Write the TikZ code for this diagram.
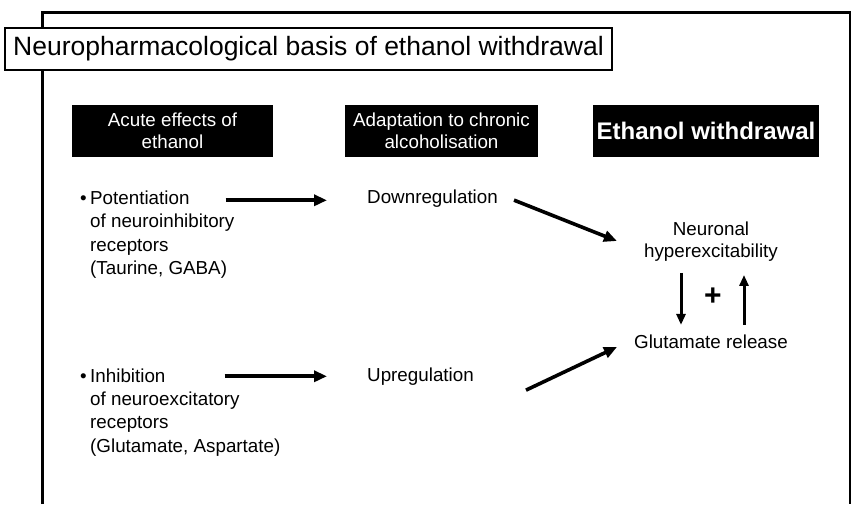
\documentclass[tikz,border=0pt]{standalone}
\usepackage{fontspec}
\setmainfont{Liberation Sans}
\usetikzlibrary{arrows.meta,calc}
\begin{document}
\begin{tikzpicture}[x=1pt,y=-1pt,
  body/.style={font=\fontsize{18.8}{22.5}\selectfont, inner sep=0pt, text=black},
  blackbox/.style={fill=black, text=white, inner sep=0pt, align=center, font=\fontsize{18.8}{22}\selectfont},
  arr/.style={line width=3.6pt, -{Triangle[length=13pt,width=11pt]}},
  varr/.style={line width=3pt, -{Triangle[length=11pt,width=9pt]}}
]
\useasboundingbox (0,0) rectangle (852,504);
\fill[white] (0,0) rectangle (852,504);
% frame (open at the bottom)
\draw[line width=3pt] (42,504) -- (42,12) -- (851,12);
\draw[line width=1.6pt] (850,12) -- (850,504);
% title
\node[draw, line width=1.2pt, fill=white, minimum width=607pt, minimum height=42pt, inner sep=0pt,
      font=\fontsize{26.5}{30}\selectfont] (title) at (308.5,49) {Neuropharmacological basis of ethanol withdrawal};
% column headers
\node[blackbox, minimum width=201pt, minimum height=52pt] (h1) at (172.5,131) {Acute effects of\\ethanol};
\node[blackbox, minimum width=193pt, minimum height=52pt] (h2) at (441.5,131) {Adaptation to chronic\\alcoholisation};
\node[blackbox, minimum width=226pt, minimum height=52pt, font=\fontsize{24}{28}\bfseries] (h3) at (706,131) {Ethanol withdrawal};
% left column, upper block
\node[body, anchor=base east] (b1) at (87,204) {•};
\node[body, anchor=base west] (potA) at (90,204) {Potentiation};
\node[body, anchor=base west] (potB) at (90,227) {of neuroinhibitory};
\node[body, anchor=base west] (potC) at (90,251) {receptors};
\node[body, anchor=base west] (potD) at (90,274) {(Taurine, GABA)};
% left column, lower block
\node[body, anchor=base east] (b2) at (87,382) {•};
\node[body, anchor=base west] (inhA) at (90,382) {Inhibition};
\node[body, anchor=base west] (inhB) at (90,405) {of neuroexcitatory};
\node[body, anchor=base west] (inhC) at (90,428) {receptors};
\node[body, anchor=base west] (inhD) at (90,452) {(Glutamate, Aspartate)};
% middle column
\node[body, anchor=base west] (down) at (367,203) {Downregulation};
\node[body, anchor=base west] (up) at (367,381) {Upregulation};
% right column
\node[body, align=center, font=\fontsize{18.8}{22}\selectfont] (neur) at (711,242) {Neuronal\\hyperexcitability};
\node[body] (glu) at (711,342) {Glutamate release};
\node[inner sep=0pt, font=\fontsize{30}{30}\bfseries] (plus) at (713,297) {+};
% connectors
\draw[arr] ($(potA.east)+(36,3)$) -- ($(potA.east -| down.west)+(-40,3)$);
\draw[arr] ($(inhA.east)+(59,1)$) -- ($(inhA.east -| up.west)+(-40,1)$);
\draw[arr] ($(down.east)+(16,2)$) -- ($(neur.west)+(-27,-1)$);
\draw[arr] ($(up.east)+(52,14)$) -- ($(glu.west)+(-17,5)$);
\draw[varr] ($(neur.south)+(-30,11)$) -- ($(glu.north)+(-30,-10)$);
\draw[varr] ($(glu.north)+(33,-10)$) -- ($(neur.south)+(33,13)$);
\end{tikzpicture}
\end{document}
